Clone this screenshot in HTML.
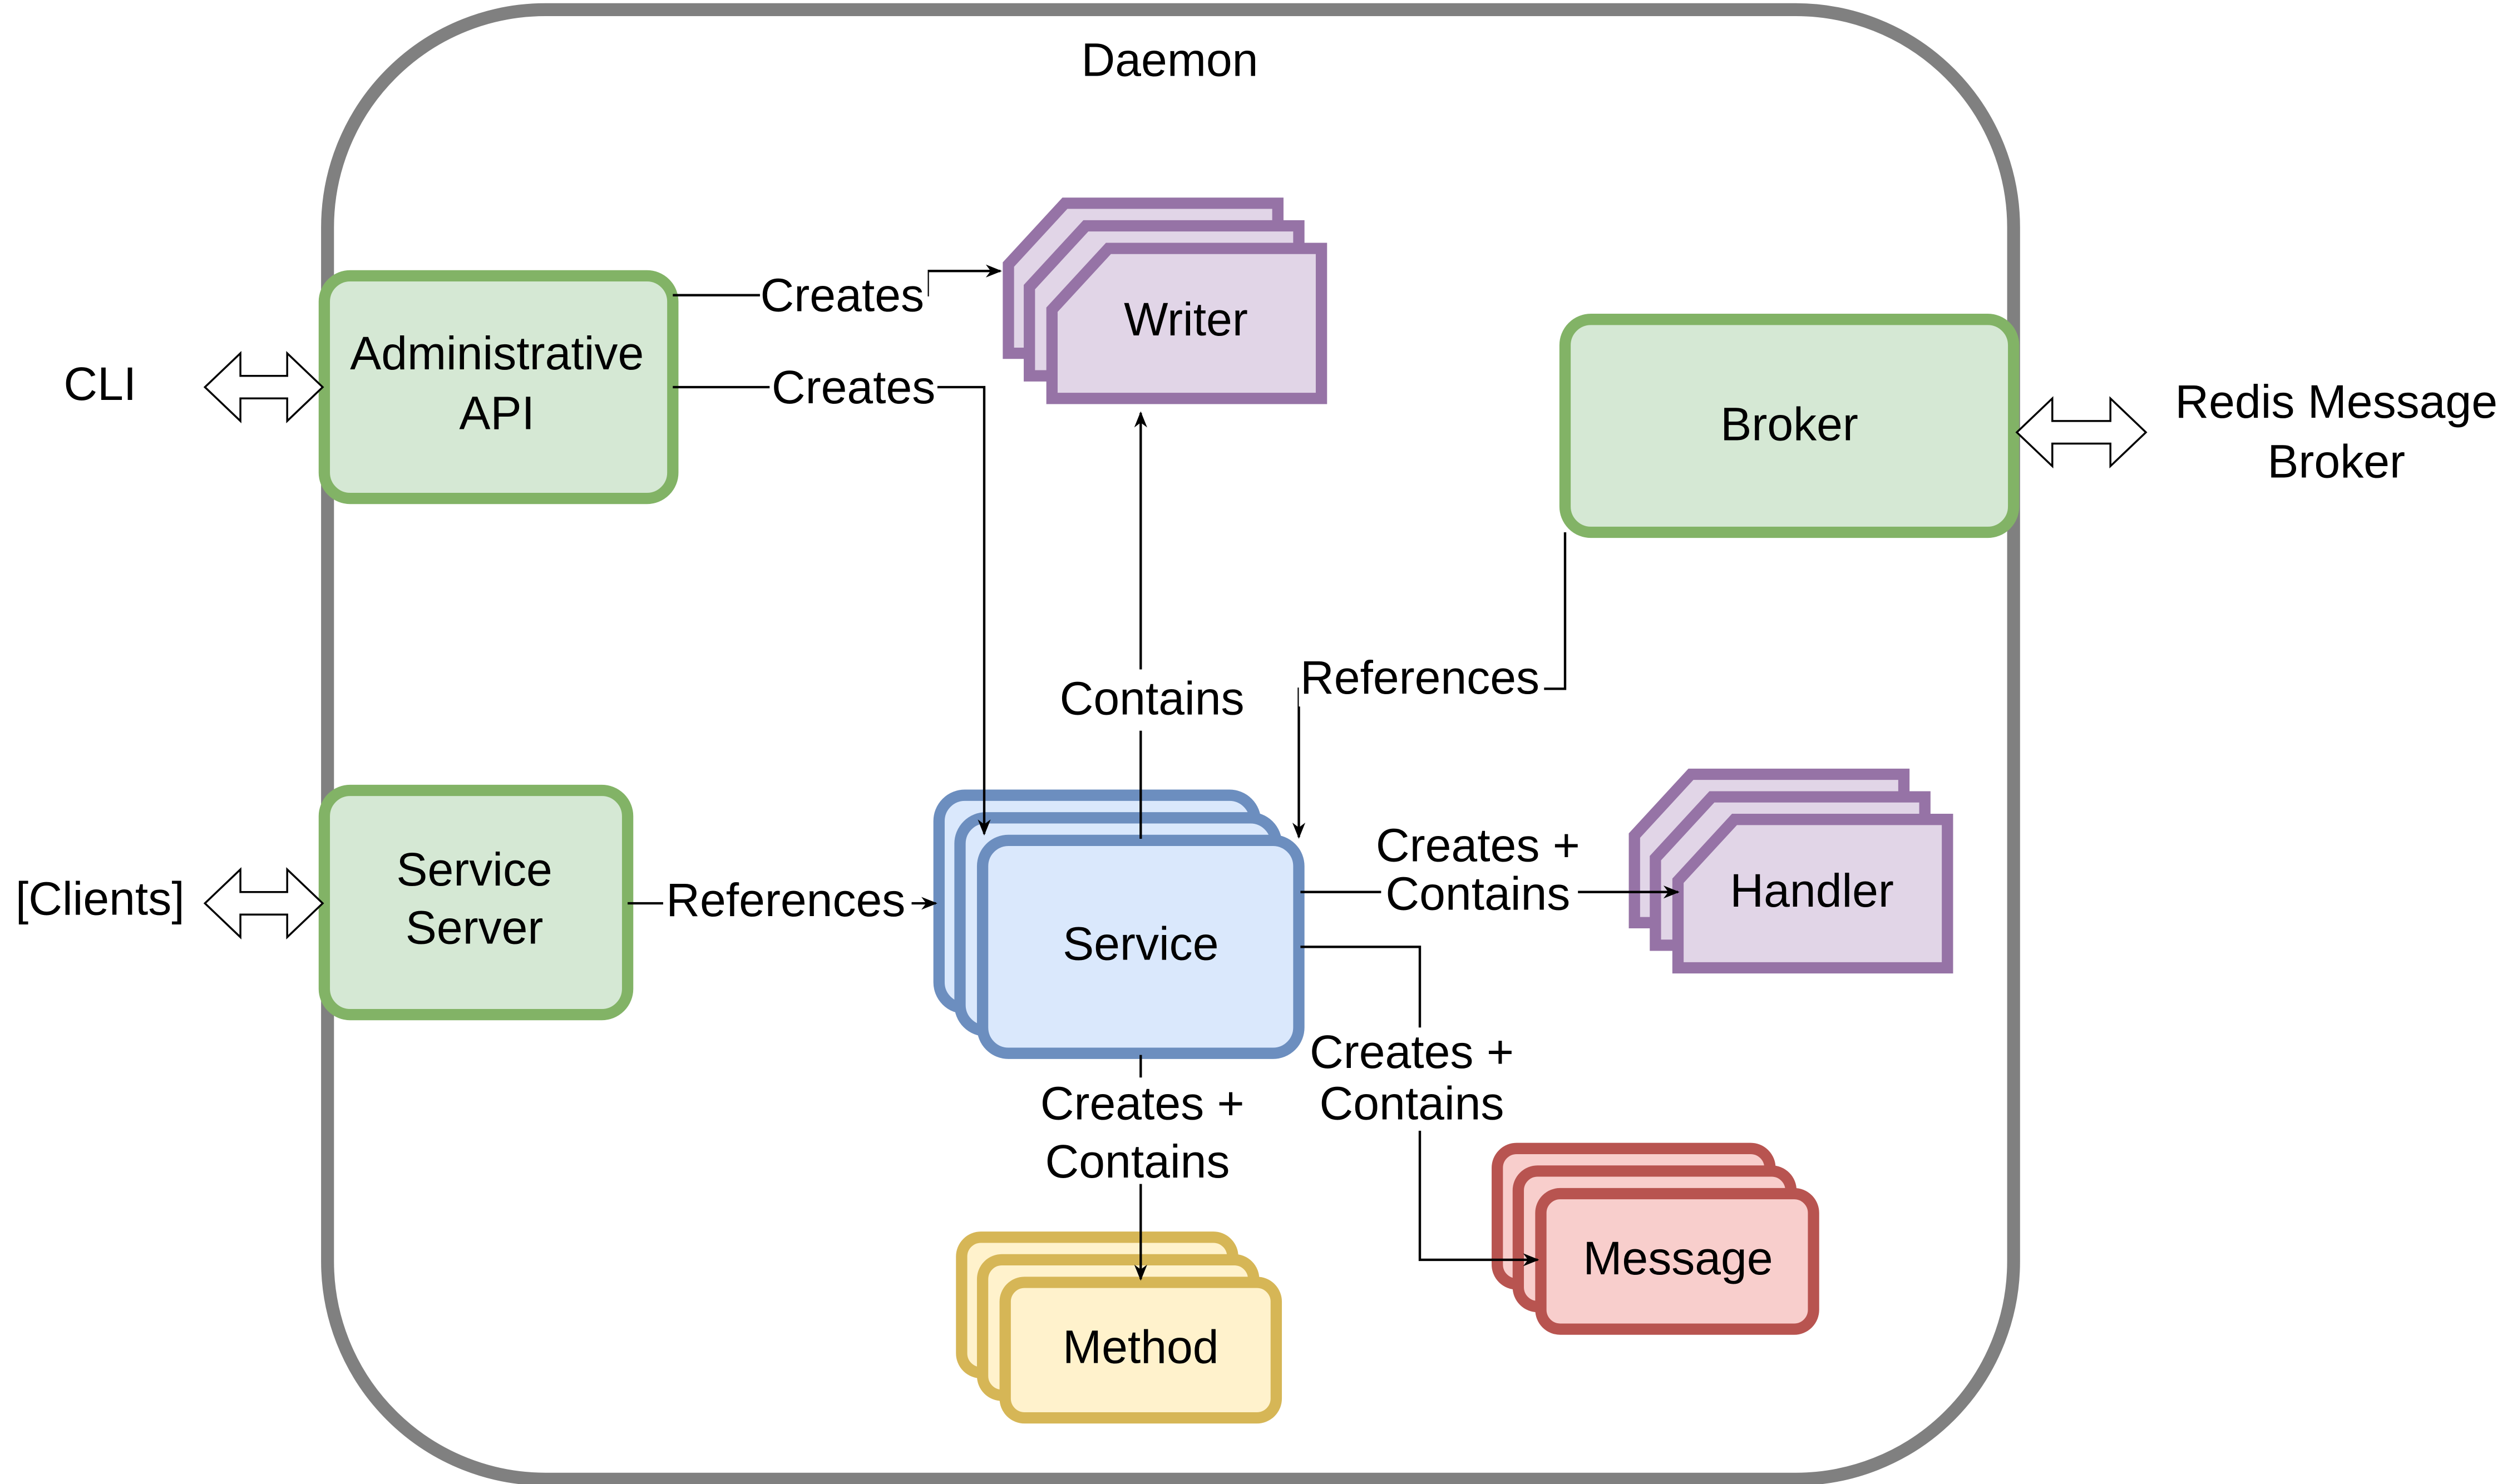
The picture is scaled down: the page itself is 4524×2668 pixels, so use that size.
<!DOCTYPE html>
<html><head><meta charset="utf-8"><style>
html,body{margin:0;padding:0;background:#fff}
svg{display:block}
text{font-family:"Liberation Sans",Arial,sans-serif;font-size:29px;fill:#000;text-anchor:middle;dominant-baseline:central}
</style></head><body>
<svg width="4524" height="2668" viewBox="0 0 1560 920" xmlns="http://www.w3.org/2000/svg">
<defs>
<marker id="a" markerWidth="10" markerHeight="10" refX="9" refY="5" orient="auto" markerUnits="userSpaceOnUse">
<path d="M0,1 L10,5 L0,9 L3,5 Z" fill="#000"/></marker>
</defs>
<rect x="203" y="6" width="1045" height="911" rx="135" fill="#fff" stroke="#808080" stroke-width="8"/>
<text x="725" y="37">Daemon</text>

<!-- Admin API -->
<rect x="201" y="171" width="216" height="138" rx="16" fill="#d5e8d4" stroke="#82b366" stroke-width="7"/>
<text x="308" y="219">Administrative</text>
<text x="308" y="256">API</text>
<!-- Service Server -->
<rect x="201" y="490" width="188" height="139" rx="16" fill="#d5e8d4" stroke="#82b366" stroke-width="7"/>
<text x="294" y="539">Service</text>
<text x="294" y="575">Server</text>
<!-- Broker -->
<rect x="970" y="198" width="278" height="132" rx="16" fill="#d5e8d4" stroke="#82b366" stroke-width="7"/>
<text x="1109" y="263">Broker</text>

<!-- double arrows -->
<g fill="#fff" stroke="#000" stroke-width="1.2">
<polygon points="127,240 149,219 149,233 178,233 178,219 200,240 178,261 178,247 149,247 149,261"/>
<polygon points="127,560 149,539 149,553 178,553 178,539 200,560 178,581 178,567 149,567 149,581"/>
<polygon points="1250,268 1272,247 1272,261 1308,261 1308,247 1330,268 1308,289 1308,275 1272,275 1272,289"/>
</g>
<text x="62" y="238">CLI</text>
<text x="62" y="557">[Clients]</text>
<text x="1448" y="249">Redis Message</text>
<text x="1448" y="286">Broker</text>

<!-- Writer -->
<g fill="#e1d5e7" stroke="#9673a6" stroke-width="7">
<path d="M660,126 H792 V219 H625 V164 Z"/>
<path d="M673,140 H805 V233 H638 V178 Z"/>
<path d="M687,154 H819 V247 H652 V192 Z"/>
</g>
<text x="735" y="198">Writer</text>

<!-- Handler -->
<g fill="#e1d5e7" stroke="#9673a6" stroke-width="7">
<path d="M1048,480 H1180 V572 H1013 V518 Z"/>
<path d="M1061,494 H1193 V586 H1026 V532 Z"/>
<path d="M1075,508 H1207 V600 H1040 V546 Z"/>
</g>
<text x="1123" y="552">Handler</text>

<!-- Service -->
<g fill="#dae8fc" stroke="#6c8ebf" stroke-width="7">
<rect x="582" y="493" width="196" height="132" rx="16"/>
<rect x="595" y="507" width="196" height="132" rx="16"/>
<rect x="609" y="521" width="196" height="132" rx="16"/>
</g>
<text x="707" y="585">Service</text>

<!-- Message -->
<g fill="#f8cecc" stroke="#b85450" stroke-width="7">
<rect x="928" y="712" width="169" height="84" rx="12"/>
<rect x="941" y="726" width="169" height="84" rx="12"/>
<rect x="955" y="740" width="169" height="84" rx="12"/>
</g>
<text x="1040" y="780">Message</text>

<!-- Method -->
<g fill="#fff2cc" stroke="#d6b656" stroke-width="7">
<rect x="596" y="767" width="168" height="84" rx="12"/>
<rect x="609" y="781" width="168" height="84" rx="12"/>
<rect x="623" y="795" width="168" height="84" rx="12"/>
</g>
<text x="707" y="835">Method</text>

<!-- connectors on top -->
<g fill="none" stroke="#000" stroke-width="1.5">
<path d="M417,183 H575 V168 H620" marker-end="url(#a)"/>
<path d="M417,240 H610 V517" marker-end="url(#a)"/>
<path d="M707,520 V256" marker-end="url(#a)"/>
<path d="M970,330 V427 H805 V519" marker-end="url(#a)"/>
<path d="M389,560 H580" marker-end="url(#a)"/>
<path d="M806,553 H1040" marker-end="url(#a)"/>
<path d="M806,587 H880 V781 H953" marker-end="url(#a)"/>
<path d="M707,654 V793" marker-end="url(#a)"/>
</g>

<!-- labels with white bg -->
<g fill="#fff">
<rect x="471" y="167" width="104" height="32"/>
<rect x="477" y="224" width="104" height="32"/>
<rect x="655" y="415" width="120" height="38"/>
<rect x="805" y="402" width="152" height="36"/>
<rect x="411" y="543" width="154" height="30"/>
<rect x="856" y="508" width="122" height="62"/>
<rect x="812" y="637" width="126" height="64"/>
<rect x="645" y="668" width="126" height="66"/>
</g>
<text x="522" y="183">Creates</text>
<text x="529" y="240">Creates</text>
<text x="714" y="433">Contains</text>
<text x="880" y="420">References</text>
<text x="487" y="558">References</text>
<text x="916" y="524">Creates +</text>
<text x="916" y="554">Contains</text>
<text x="875" y="652">Creates +</text>
<text x="875" y="684">Contains</text>
<text x="708" y="684">Creates +</text>
<text x="705" y="720">Contains</text>
</svg>
</body></html>
